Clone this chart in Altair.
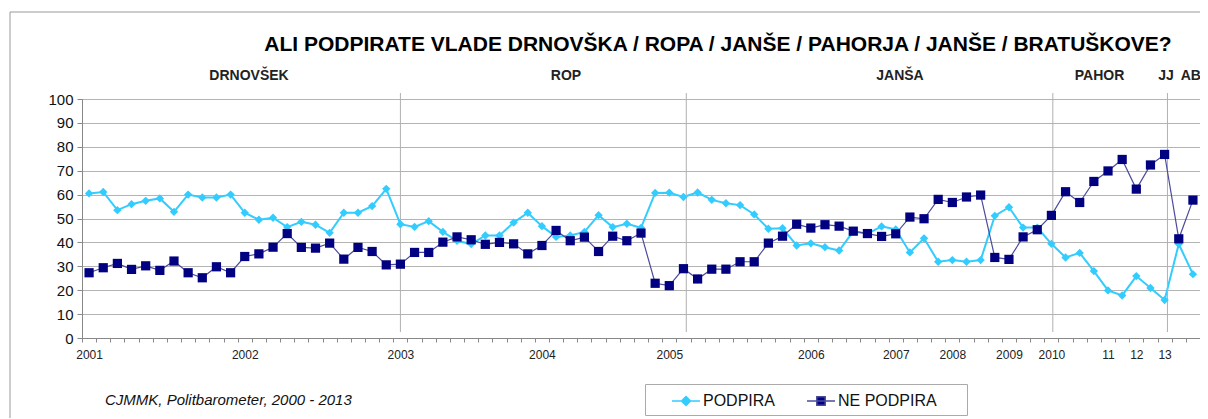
import altair as alt
import pandas as pd

# ---------------- data ----------------
series_names = ["PODPIRA", "NE PODPIRA"]

podpira = [60.5, 61.1, 53.5, 56, 57.4, 58.4, 52.8, 60, 58.8, 58.8,
           60, 52.4, 49.5, 50.3, 46.4, 48.6, 47.4, 44, 52.4, 52.4,
           55.2, 62.4, 47.6,
           46.5, 48.9, 44.4, 40.7, 39.3, 42.9, 42.9, 48.3, 52.4, 46.8,
           42.3, 42.9, 44.4, 51.4, 46.4, 47.8, 46.1, 60.7, 60.8, 59,
           60.9, 57.8, 56.4, 55.6, 51.7, 45.7, 45.9, 38.7, 39.6, 38,
           36.6, 44.6, 43.6, 46.7, 45.4, 35.8, 41.7, 31.9, 32.6, 31.9, 32.6,
           51.1, 54.7, 46.2, 46.2, 39.4, 33.7, 35.6, 28, 19.9, 17.8,
           25.9, 20.9, 15.9, 39.3, 26.7]

ne_podpira = [27.3, 29.4, 31.2, 28.7, 30.2, 28.3, 32.2, 27.3, 25.2, 29.8,
              27.3, 34.1, 35.2, 38, 43.7, 37.9, 37.6, 39.7, 33, 37.9,
              36.2, 30.6, 30.9,
              35.8, 35.8, 40.1, 42.3, 41.1, 39.2, 40, 39.4, 35.2, 38.7,
              45, 40.7, 42.2, 36.2, 42.6, 40.7, 43.9, 22.9, 21.9, 29,
              24.7, 28.8, 28.8, 31.9, 31.9, 39.7, 42.6, 47.6, 46, 47.4,
              46.8, 44.7, 43.7, 42.5, 43.6, 50.6, 49.9, 58, 56.7, 59, 59.8,
              33.7, 32.9, 42.3, 45.3, 51.3, 61.2, 56.7, 65.5, 69.9, 74.7,
              62.3, 72.4, 76.8, 41.5, 57.7]

x_label_idx = [0, 11, 22, 32, 41, 51, 57, 61, 65, 68, 72, 74, 76]
x_label_txt = ["2001", "2002", "2003", "2004", "2005", "2006", "2007",
               "2008", "2009", "2010", "11", "12", "13"]

gov_names = ["DRNOVŠEK", "ROP", "JANŠA", "PAHOR", "JJ", "AB"]
gov_pos = [11.3, 33.7, 57.3, 71.4, 76.1, 77.85]
gov_breaks = [22.0, 42.2, 68.1, 76.2]

title_text = "ALI PODPIRATE VLADE DRNOVŠKA / ROPA / JANŠE / PAHORJA / JANŠE / BRATUŠKOVE?"
source_text = "CJMMK, Politbarometer, 2000 - 2013"

# ---------------- tables ----------------
n = len(podpira)
idx = list(range(n))
df = pd.DataFrame({
    "i": idx + idx,
    "v": podpira + ne_podpira,
    "s": [series_names[0]] * n + [series_names[1]] * n,
})
df_breaks = pd.DataFrame({"b": gov_breaks})
df_gov = pd.DataFrame({"p": gov_pos, "n": gov_names})
df_one = pd.DataFrame({"t": [title_text], "src": [source_text]})

FONT = "Liberation Sans"
LIGHT = "#33CCFF"
NAVY = "#000080"
NAVY_LINE = "#4B4B9B"

xscale = alt.Scale(domain=[-0.5, n - 0.5], nice=False, zero=False)
yscale = alt.Scale(domain=[0, 100], nice=False)

tick_axis = alt.Axis(orient="bottom", values=[k - 0.5 for k in range(n + 1)],
                     labels=False, ticks=True, tickSize=4, tickColor="#888",
                     grid=False, domain=True, domainColor="#888", title=None)
label_expr = ("[" + ",".join("'%s'" % t for t in x_label_txt) + "][indexof(["
              + ",".join(str(i) for i in x_label_idx) + "], datum.value)]")
label_axis = alt.Axis(orient="bottom", values=x_label_idx, labelExpr=label_expr,
                      ticks=False, domain=False, grid=False, title=None,
                      labelFont=FONT, labelFontSize=12, labelColor="#222",
                      labelPadding=11, labelOverlap=False)
y_axis = alt.Axis(values=list(range(0, 101, 10)), grid=True, gridColor="#b4b4b4",
                  gridWidth=1, tickSize=5, tickColor="#888", domainColor="#888",
                  labelFont=FONT, labelFontSize=15, labelColor="#111",
                  labelPadding=4, labelOverlap=False, title=None)

base = alt.Chart(df)
XQ = alt.X("i:Q", axis=None)
YQ = alt.Y("v:Q", scale=yscale, axis=y_axis)

# frame around the whole chart
frame = alt.Chart(df_one).mark_rect(fillOpacity=0, stroke="#999", strokeWidth=1).encode(
    x=alt.value(-72), x2=alt.value(1150), y=alt.value(-87), y2=alt.value(340))

line_p = base.transform_filter(alt.datum.s == series_names[0]).mark_line(
    color=LIGHT, strokeWidth=2).encode(
    x=alt.X("i:Q", scale=xscale, axis=tick_axis), y=YQ)

rules = alt.Chart(df_breaks).mark_rule(color="#b0b0b0", strokeWidth=1).encode(
    x=alt.X("b:Q", scale=xscale, axis=label_axis),
    y=alt.Y(datum=2.5, type="quantitative", scale=yscale, axis=y_axis),
    y2=alt.Y2(datum=102.5))

line_n = base.transform_filter(alt.datum.s == series_names[1]).mark_line(
    color=NAVY_LINE, strokeWidth=1.2).encode(x=XQ, y=YQ)

pts_p = base.transform_filter(alt.datum.s == series_names[0]).mark_point(
    shape="diamond", filled=True, color=LIGHT, size=70, opacity=1).encode(x=XQ, y=YQ)

pts_n = base.transform_filter(alt.datum.s == series_names[1]).mark_square(
    color=NAVY, size=85, opacity=1).encode(x=XQ, y=YQ)

# legend-only layer (draws nothing, supplies the legend)
diamond_path = "M-1.4,0H1.4M0,-0.45L0.45,0L0,0.45L-0.45,0Z"
square_path = "M-1.4,0H1.4M-0.42,-0.42H0.42V0.42H-0.42Z"
blank = "\u2800" * 2
leg = alt.Legend(orient="none", legendX=563, legendY=285, direction="horizontal",
                 title=None, labelFont=FONT, labelFontSize=16, labelColor="#111",
                 strokeColor="#aaa", fillColor="white", padding=6,
                 columnPadding=10, symbolSize=400, symbolStrokeWidth=1.5,
                 symbolOffset=24, labelOffset=6,
                 labelExpr="datum.label == 'NE PODPIRA' ? datum.label + '" + blank + "' : datum.label")
legend_layer = base.transform_filter("false").mark_point(filled=True, opacity=1).encode(
    x=XQ, y=YQ,
    shape=alt.Shape("s:N", scale=alt.Scale(domain=series_names,
                                           range=[diamond_path, square_path]), legend=leg),
    fill=alt.Fill("s:N", scale=alt.Scale(domain=series_names, range=[LIGHT, NAVY]), legend=leg),
    stroke=alt.Stroke("s:N", scale=alt.Scale(domain=series_names, range=[LIGHT, NAVY_LINE]), legend=leg),
)

gov = alt.Chart(df_gov).mark_text(font=FONT, fontSize=14, fontWeight="bold",
                                  color="#222", baseline="alphabetic").encode(
    x=alt.X("p:Q", axis=None), y=alt.value(-19), text="n:N")

title = alt.Chart(df_one).mark_text(font=FONT, fontSize=21, fontWeight="bold",
                                    color="#000", baseline="alphabetic").encode(
    x=alt.value(636), y=alt.value(-48), text="t:N")

source = alt.Chart(df_one).mark_text(font=FONT, fontSize=15, fontStyle="italic",
                                     color="#111", align="left",
                                     baseline="alphabetic").encode(
    x=alt.value(23), y=alt.value(306), text="src:N")

chart = alt.layer(
    frame, line_p, rules, line_n, pts_p, pts_n, legend_layer, gov, title, source
).resolve_axis(x="independent").properties(
    width=1118, height=239,
    autosize=alt.AutoSizeParams(type="none"),
    padding={"left": 74, "top": 91, "right": 0, "bottom": 80},
    background="white",
).configure_view(stroke="#888", strokeWidth=1)

chart.save("out.html", embed_options={"renderer": "svg", "actions": False})
